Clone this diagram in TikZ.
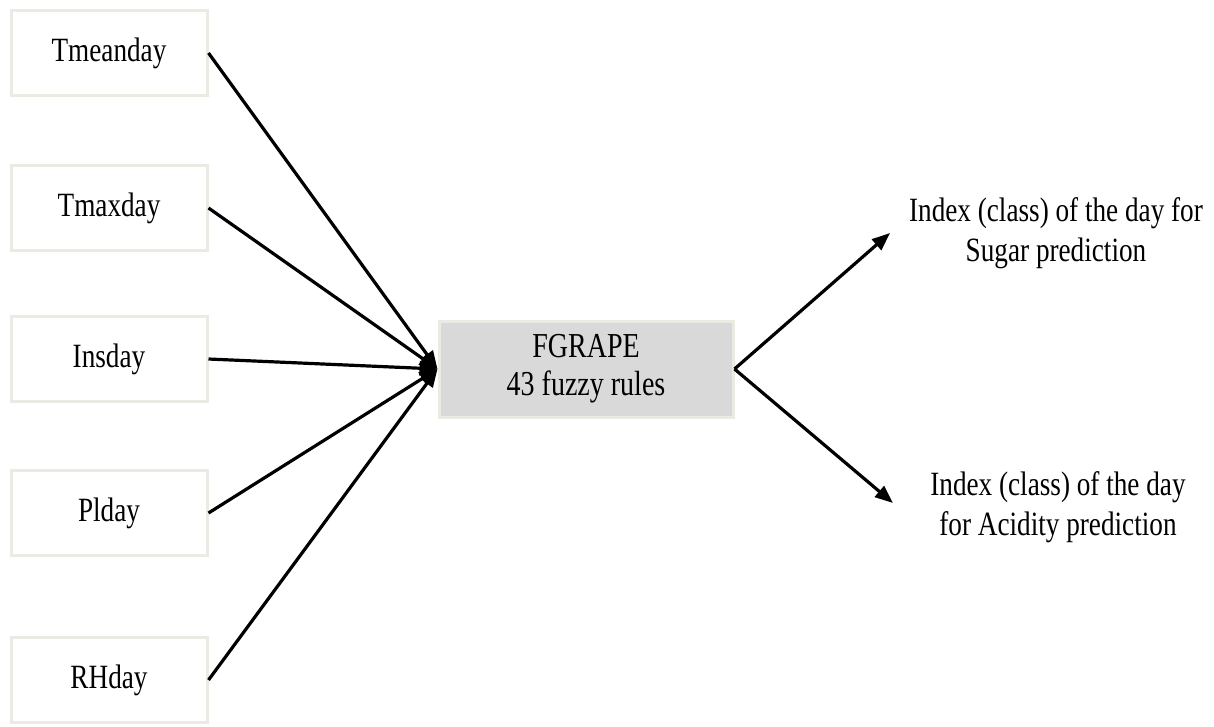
\documentclass[tikz,border=0pt]{standalone}
\usepackage{fontspec}
\setmainfont{Liberation Serif}[FakeStretch=0.80]
\usetikzlibrary{arrows.meta}
\definecolor{boxedge}{HTML}{EBEBE3}
\definecolor{boxfill}{HTML}{D9D9D9}
\begin{document}
\begin{tikzpicture}[x=1pt,y=-1pt,
  inbox/.style={draw=boxedge,line width=3pt,fill=white,minimum width=196pt,minimum height=85pt,inner sep=0pt,font=\fontsize{34}{40}\selectfont},
  corebox/.style={draw=boxedge,line width=3pt,fill=boxfill,minimum width=294pt,minimum height=96pt,inner sep=0pt,align=center,font=\fontsize{35}{38}\selectfont},
  outtext/.style={align=center,inner sep=0pt,font=\fontsize{34}{40}\selectfont},
  arr/.style={line width=3.2pt,-{Triangle[length=18pt,width=14pt]}}]
\useasboundingbox (0,0) rectangle (1214,726);
\node[inbox] (t1) at (109,53) {Tmeanday};
\node[inbox] (t2) at (109,208) {Tmaxday};
\node[inbox] (t3) at (109,359) {Insday};
\node[inbox] (t4) at (109,513) {Plday};
\node[inbox] (t5) at (109,680) {RHday};
\node[corebox] (c) at (586,369) {FGRAPE\\43 fuzzy rules};
\node[outtext] (o1) at (1056,233) {Index (class) of the day for\\Sugar prediction};
\node[outtext] (o2) at (1058,507) {Index (class) of the day\\for Acidity prediction};
\coordinate (e1) at (890,233);
\coordinate (e2) at (893,503);
\foreach \n in {t1,t2,t3,t4,t5} \draw[arr] (\n.east) -- (c.west);
\draw[arr] (c.east) -- (e1);
\draw[arr] (c.east) -- (e2);
\end{tikzpicture}
\end{document}
